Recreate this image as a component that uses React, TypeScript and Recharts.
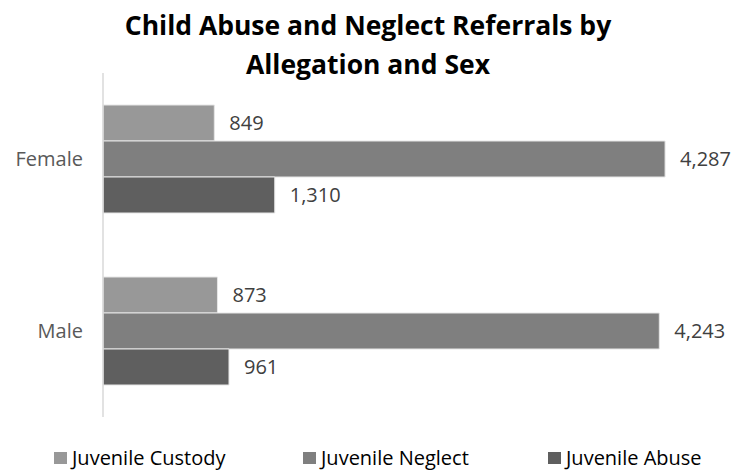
import { BarChart, Bar, XAxis, YAxis, Legend, LabelList } from 'recharts'

// categories and series
const sexes = ['Female', 'Male']
const custody = [849, 873]
const neglect = [4287, 4243]
const abuse = [1310, 961]

const SERIES = [
  { key: 'custody', name: 'Juvenile Custody', color: '#989898' },
  { key: 'neglect', name: 'Juvenile Neglect', color: '#7f7f7f' },
  { key: 'abuse', name: 'Juvenile Abuse', color: '#5f5f5f' },
]

const FONT = '"Open Sans", Lato, sans-serif'

const data = sexes.map((sex, i) => ({
  sex,
  custody: custody[i],
  neglect: neglect[i],
  abuse: abuse[i],
}))

// legend items sit at fixed x positions like the original
const LEGEND_X = [54, 303, 548]

const renderLegend = () => (
  <div style={{ position: 'relative', width: 736, height: 40, fontFamily: FONT }}>
    {SERIES.map((s, i) => (
      <div
        key={s.key}
        style={{
          position: 'absolute',
          left: LEGEND_X[i],
          top: 15,
          height: 22,
          lineHeight: '22px',
          display: 'flex',
          alignItems: 'center',
          fontSize: 20,
          color: '#000',
          whiteSpace: 'nowrap',
        }}
      >
        <span style={{ display: 'inline-block', width: 13, height: 12, background: s.color, marginRight: 5 }} />
        {s.name}
      </div>
    ))}
  </div>
)

export default function App() {
  return (
    <div style={{ position: 'absolute', left: 0, top: 0, width: 736, height: 472, background: '#fff' }}>
      <div
        style={{
          position: 'absolute',
          left: 0,
          top: 6,
          width: 736,
          textAlign: 'center',
          fontFamily: FONT,
          fontWeight: 700,
          fontSize: 26.5,
          lineHeight: '39px',
          color: '#000',
          zIndex: 1,
        }}
      >
        Child Abuse and Neglect Referrals by
        <br />
        Allegation and Sex
      </div>
      <BarChart
        width={736}
        height={472}
        data={data}
        layout="vertical"
        margin={{ top: 73, right: 43, bottom: 15, left: 0 }}
        barCategoryGap={32}
        barGap={0}
      >
        <XAxis type="number" domain={[0, 4500]} hide />
        <YAxis
          type="category"
          dataKey="sex"
          width={103}
          axisLine={{ stroke: '#d9d9d9', strokeWidth: 1.5 }}
          tickLine={false}
          tickMargin={14}
          tick={{ fontSize: 20, fill: '#595959', fontFamily: FONT }}
        />
        <Legend
          verticalAlign="bottom"
          content={renderLegend}
          wrapperStyle={{ left: 0, bottom: 0, width: 736 }}
        />
        {SERIES.map((s) => (
          <Bar
            key={s.key}
            dataKey={s.key}
            name={s.name}
            fill={s.color}
            stroke="#e6e6e6"
            strokeWidth={1}
            isAnimationActive={false}
          >
            <LabelList
              dataKey={s.key}
              position="right"
              offset={15}
              fill="#404040"
              fontSize={20}
              fontFamily={FONT}
              formatter={(v: unknown) => Number(v).toLocaleString('en-US')}
            />
          </Bar>
        ))}
      </BarChart>
    </div>
  )
}
